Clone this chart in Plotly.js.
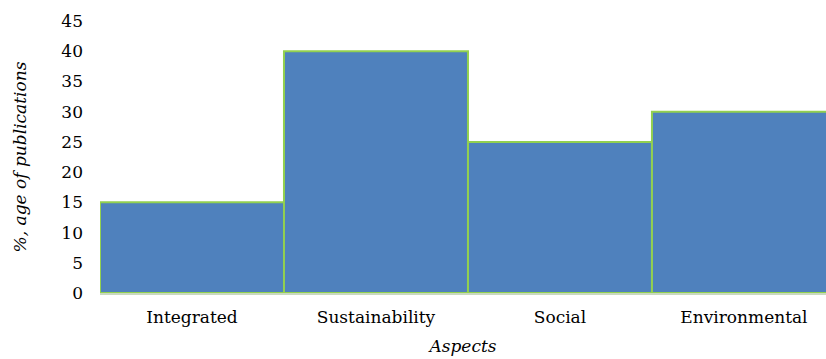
<!DOCTYPE html>
<html>
<head>
<meta charset="utf-8">
<script src="https://cdn.plot.ly/plotly-3.0.1.min.js"></script>
<style>html,body{margin:0;padding:0;background:#fff;}#chart{width:826px;height:359px;}</style>
</head>
<body>
<div id="chart"></div>
<script>
const categories = ["Integrated", "Sustainability", "Social", "Environmental"];
const percentages = [15, 40, 25, 30];
const yTickValues = [0, 5, 10, 15, 20, 25, 30, 35, 40, 45];

const font = "DejaVu Serif";
Plotly.newPlot("chart", [{
  type: "bar",
  x: categories,
  y: percentages,
  width: 1,
  marker: {color: "#4F81BD", line: {color: "#92D050", width: 2}},
  hoverinfo: "skip"
}], {
  width: 826, height: 359,
  margin: {l: 100, r: 0, t: 21, b: 66},
  paper_bgcolor: "#fff", plot_bgcolor: "#fff",
  bargap: 0,
  showlegend: false,
  font: {family: font, size: 17, color: "#000"},
  xaxis: {
    type: "category",
    range: [-0.5, 3.446],
    showgrid: false, zeroline: false,
    showline: true, linecolor: "#C9D9C0", linewidth: 2,
    ticks: "", ticklabelstandoff: 8,
    tickfont: {family: font, size: 17, color: "#000"},
    title: {text: "<i>Aspects</i>", font: {family: font, size: 17, color: "#000"}, standoff: 14}
  },
  yaxis: {
    range: [0, 45],
    tickvals: yTickValues,
    showgrid: false, zeroline: false, showline: false,
    ticks: "", ticklabelstandoff: 16,
    tickfont: {family: font, size: 17, color: "#000"},
    title: {text: "<i>%, age of publications</i>", font: {family: font, size: 17, color: "#000"}, standoff: 30}
  }
}, {staticPlot: true});
</script>
</body>
</html>
